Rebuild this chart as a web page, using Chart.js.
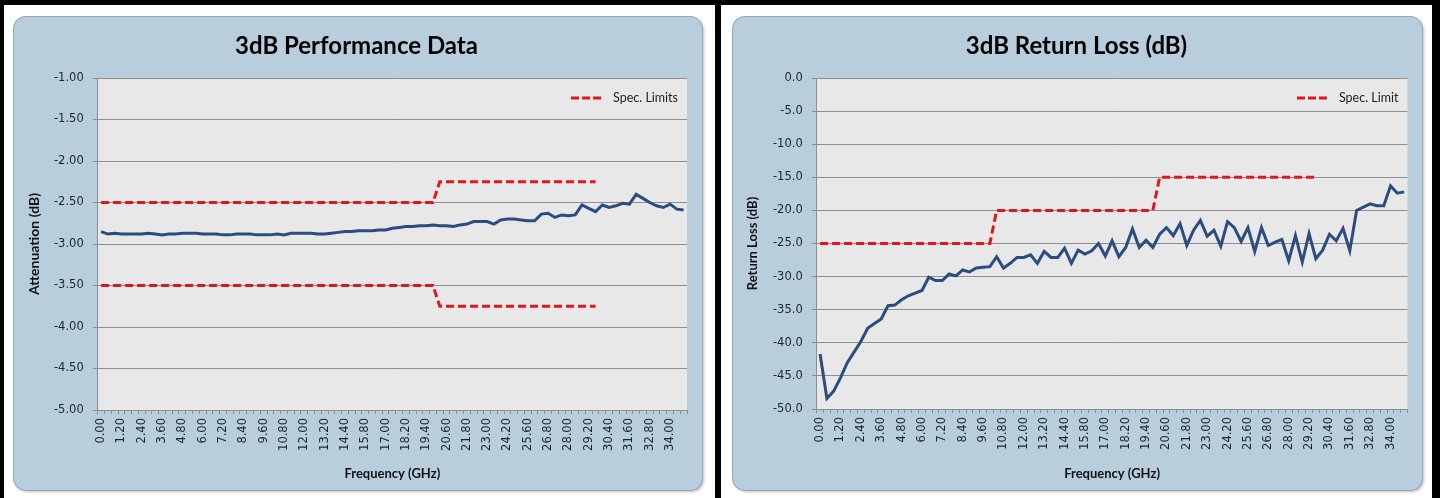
<!DOCTYPE html>
<html>
<head>
<meta charset="utf-8">
<script src="https://cdn.jsdelivr.net/npm/chart.js@4.4.1/dist/chart.umd.min.js"></script>
<style>
  html, body { margin: 0; padding: 0; background: #fff; }
  body { width: 1440px; height: 498px; position: relative; overflow: hidden; }
  .bar { position: absolute; background: #000; }
  .panel { position: absolute; top: 17px; height: 473px; background: #b8cedc; border-radius: 12px;
           box-shadow: 0 0 0 1px #93a7b5, 2px 2px 3px rgba(0,0,0,0.25); }
  .panel canvas { position: absolute; left: 0; top: 0; }
</style>
</head>
<body>
<div class="bar" style="left:0;top:0;width:1440px;height:5px"></div>
<div class="bar" style="left:0;top:0;width:4px;height:498px"></div>
<div class="bar" style="left:715px;top:0;width:6px;height:498px"></div>
<div class="bar" style="left:1432px;top:0;width:8px;height:498px"></div>

<div class="panel" style="left:14px;width:688px"><canvas id="attChart" width="688" height="473"></canvas></div>
<div class="panel" style="left:733px;width:689px"><canvas id="rlChart" width="689" height="473"></canvas></div>

<script>
// frequency categories (GHz)
const freqGHz = [0.0, 0.4, 0.8, 1.2, 1.6, 2.0, 2.4, 2.8, 3.2, 3.6, 4.0, 4.4, 4.8, 5.2, 5.6, 6.0, 6.4, 6.8, 7.2, 7.6,
  8.0, 8.4, 8.8, 9.2, 9.6, 10.0, 10.4, 10.8, 11.2, 11.6, 12.0, 12.4, 12.8, 13.2, 13.6, 14.0, 14.4, 14.8, 15.4, 15.8,
  16.2, 16.6, 17.0, 17.4, 17.8, 18.2, 18.6, 19.0, 19.4, 19.8, 20.2, 20.6, 21.0, 21.4, 21.8, 22.2, 22.6, 23.0, 23.4, 23.8,
  24.2, 24.8, 25.2, 25.6, 26.0, 26.4, 26.8, 27.2, 27.6, 28.0, 28.4, 28.8, 29.2, 29.6, 30.0, 30.4, 30.8, 31.2, 31.6, 32.0,
  32.4, 32.8, 33.2, 33.6, 34.0, 34.4, 34.8];

// attenuation (dB)
const attenuation = [-2.85, -2.88, -2.87, -2.88, -2.88, -2.88, -2.88, -2.87, -2.88, -2.89, -2.88, -2.88, -2.87, -2.87,
  -2.87, -2.88, -2.88, -2.88, -2.89, -2.89, -2.88, -2.88, -2.88, -2.89, -2.89, -2.89, -2.88, -2.89, -2.87, -2.87,
  -2.87, -2.87, -2.88, -2.88, -2.87, -2.86, -2.85, -2.85, -2.84, -2.84, -2.84, -2.83, -2.83, -2.81, -2.80, -2.79,
  -2.79, -2.78, -2.78, -2.77, -2.78, -2.78, -2.79, -2.77, -2.76, -2.73, -2.73, -2.73, -2.76, -2.71, -2.70, -2.70,
  -2.71, -2.72, -2.72, -2.64, -2.63, -2.68, -2.65, -2.66, -2.65, -2.53, -2.57, -2.61, -2.53, -2.56, -2.54, -2.51,
  -2.52, -2.40, -2.45, -2.50, -2.54, -2.56, -2.52, -2.58, -2.59];

// attenuation spec limits
const attSpecUpper = [-2.5, -2.5, -2.5, -2.5, -2.5, -2.5, -2.5, -2.5, -2.5, -2.5, -2.5, -2.5, -2.5, -2.5, -2.5, -2.5, -2.5,
  -2.5, -2.5, -2.5, -2.5, -2.5, -2.5, -2.5, -2.5, -2.5, -2.5, -2.5, -2.5, -2.5, -2.5, -2.5, -2.5, -2.5, -2.5, -2.5, -2.5,
  -2.5, -2.5, -2.5, -2.5, -2.5, -2.5, -2.5, -2.5, -2.5, -2.5, -2.5, -2.5, -2.5,
  -2.25, -2.25, -2.25, -2.25, -2.25, -2.25, -2.25, -2.25, -2.25, -2.25, -2.25, -2.25, -2.25, -2.25, -2.25, -2.25,
  -2.25, -2.25, -2.25, -2.25, -2.25, -2.25, -2.25, -2.25];
const attSpecLower = [-3.5, -3.5, -3.5, -3.5, -3.5, -3.5, -3.5, -3.5, -3.5, -3.5, -3.5, -3.5, -3.5, -3.5, -3.5, -3.5, -3.5,
  -3.5, -3.5, -3.5, -3.5, -3.5, -3.5, -3.5, -3.5, -3.5, -3.5, -3.5, -3.5, -3.5, -3.5, -3.5, -3.5, -3.5, -3.5, -3.5, -3.5,
  -3.5, -3.5, -3.5, -3.5, -3.5, -3.5, -3.5, -3.5, -3.5, -3.5, -3.5, -3.5, -3.5,
  -3.75, -3.75, -3.75, -3.75, -3.75, -3.75, -3.75, -3.75, -3.75, -3.75, -3.75, -3.75, -3.75, -3.75, -3.75, -3.75,
  -3.75, -3.75, -3.75, -3.75, -3.75, -3.75, -3.75, -3.75];

// return loss (dB)
const returnLoss = [-41.7, -48.4, -47.3, -45.3, -43.0, -41.4, -39.8, -37.8, -37.1, -36.4, -34.4, -34.3, -33.5, -32.9,
  -32.5, -32.1, -30.1, -30.6, -30.6, -29.6, -29.9, -29.0, -29.3, -28.7, -28.6, -28.5, -27.0, -28.7, -28.0, -27.1,
  -27.1, -26.7, -28.0, -26.2, -27.1, -27.1, -25.7, -28.0, -26.0, -26.6, -26.1, -25.0, -26.9, -24.6, -27.0, -25.6,
  -22.8, -25.6, -24.5, -25.6, -23.6, -22.6, -23.8, -22.0, -25.3, -23.0, -21.5, -23.9, -23.0, -25.4, -21.7, -22.6,
  -24.7, -22.6, -26.2, -22.6, -25.3, -24.8, -24.4, -27.6, -23.8, -27.8, -23.5, -27.3, -26.0, -23.6, -24.6, -22.7,
  -26.1, -20.0, -19.5, -19.0, -19.3, -19.3, -16.3, -17.4, -17.2];

// return loss spec limit
const rlSpec = [-25, -25, -25, -25, -25, -25, -25, -25, -25, -25, -25, -25, -25, -25, -25, -25, -25, -25, -25, -25,
  -25, -25, -25, -25, -25, -25,
  -20, -20, -20, -20, -20, -20, -20, -20, -20, -20, -20, -20, -20, -20, -20, -20, -20, -20, -20, -20, -20, -20, -20, -20,
  -15, -15, -15, -15, -15, -15, -15, -15, -15, -15, -15, -15, -15, -15, -15, -15, -15, -15, -15, -15, -15, -15, -15, -15];

const attRange = [-5, -1, 0.5];
const rlRange = [-50, 0, 5];

const BLUE = '#2b4c7e';
const RED = '#e3161c';
const GRID = '#8e8e8e';
const TICK = '#1e2235';

const plotBg = {
  id: 'plotBg',
  beforeDraw(chart) {
    const {ctx, chartArea: a} = chart;
    ctx.save();
    ctx.fillStyle = '#e8e8e8';
    ctx.fillRect(a.left, a.top, a.right - a.left, a.bottom - a.top);
    ctx.restore();
  }
};

// legend drawn inside the plot, top right (like the Excel one)
const specLegend = {
  id: 'specLegend',
  afterDatasetsDraw(chart, args, opts) {
    const {ctx, chartArea: a} = chart;
    ctx.save();
    ctx.font = '12.5px Lato';
    const w = ctx.measureText(opts.text).width;
    const tx = a.right - 9 - w;
    const y = a.top + 20;
    ctx.strokeStyle = RED;
    ctx.lineWidth = 3;
    ctx.setLineDash([8, 3]);
    ctx.beginPath();
    ctx.moveTo(tx - 42, y);
    ctx.lineTo(tx - 12, y);
    ctx.stroke();
    ctx.setLineDash([]);
    ctx.fillStyle = '#222';
    ctx.textBaseline = 'middle';
    ctx.fillText(opts.text, tx, y);
    ctx.restore();
  }
};

function makeChart(id, title, yTitle, yTitleSize, range, decimals, datasets, legendText, pad) {
  new Chart(document.getElementById(id), {
    type: 'line',
    data: {
      labels: freqGHz.map(f => f.toFixed(2)),
      datasets: datasets
    },
    options: {
      responsive: false,
      animation: false,
      layout: { padding: { left: 12, right: pad.right, top: 0, bottom: 8 } },
      elements: { point: { radius: 0 }, line: { tension: 0 } },
      plugins: {
        title: {
          display: true, text: title, color: '#000',
          font: { family: 'Lato', size: 24, weight: 'bold' },
          padding: { top: 14.5, bottom: 17.7 }
        },
        legend: { display: false },
        tooltip: { enabled: false },
        specLegend: { text: legendText }
      },
      scales: {
        x: {
          offset: true,
          afterFit: s => { s.height = pad.xHeight; },
          grid: { offset: true, drawOnChartArea: false, color: GRID, tickLength: 4 },
          border: { color: GRID },
          ticks: {
            autoSkip: false, minRotation: 90, maxRotation: 90, padding: 4, color: TICK,
            font: { family: 'DejaVu Sans', size: 11.5 },
            callback: (v, i) => i % 3 === 0 ? freqGHz[i].toFixed(2) : ''
          },
          title: {
            display: true, text: 'Frequency (GHz)', color: '#111',
            font: { family: 'Lato', size: 13, weight: 'bold' },
            padding: { top: 0, bottom: 0 }
          }
        },
        y: {
          min: range[0], max: range[1],
          afterFit: s => { s.width = 71.7; },
          grid: { color: GRID, tickLength: 5 },
          border: { color: GRID },
          ticks: {
            stepSize: range[2], padding: 9, color: TICK,
            font: { family: 'DejaVu Sans', size: 11.5 },
            callback: v => v.toFixed(decimals)
          },
          title: {
            display: true, text: yTitle, color: '#111',
            font: { family: 'Lato', size: yTitleSize, weight: 'bold' },
            padding: { top: 0, bottom: 0 }
          }
        }
      }
    },
    plugins: [plotBg, specLegend]
  });
}

const dataStyle = { borderColor: BLUE, backgroundColor: BLUE, borderWidth: 3 };
const specStyle = { borderColor: RED, backgroundColor: RED, borderWidth: 3, borderDash: [8, 4] };

makeChart('attChart', '3dB Performance Data', 'Attenuation (dB)', 14, attRange, 2, [
  Object.assign({ label: 'Attenuation', data: attenuation }, dataStyle),
  Object.assign({ label: 'Spec. Limits', data: attSpecUpper }, specStyle),
  Object.assign({ label: 'Spec. Limits (lower)', data: attSpecLower }, specStyle)
], 'Spec. Limits', { right: 15, xHeight: 72 });

makeChart('rlChart', '3dB Return Loss (dB)', 'Return Loss (dB)', 13, rlRange, 1, [
  Object.assign({ label: 'Return Loss', data: returnLoss }, dataStyle),
  Object.assign({ label: 'Spec. Limit', data: rlSpec }, specStyle)
], 'Spec. Limit', { right: 14, xHeight: 73 });
</script>
</body>
</html>
